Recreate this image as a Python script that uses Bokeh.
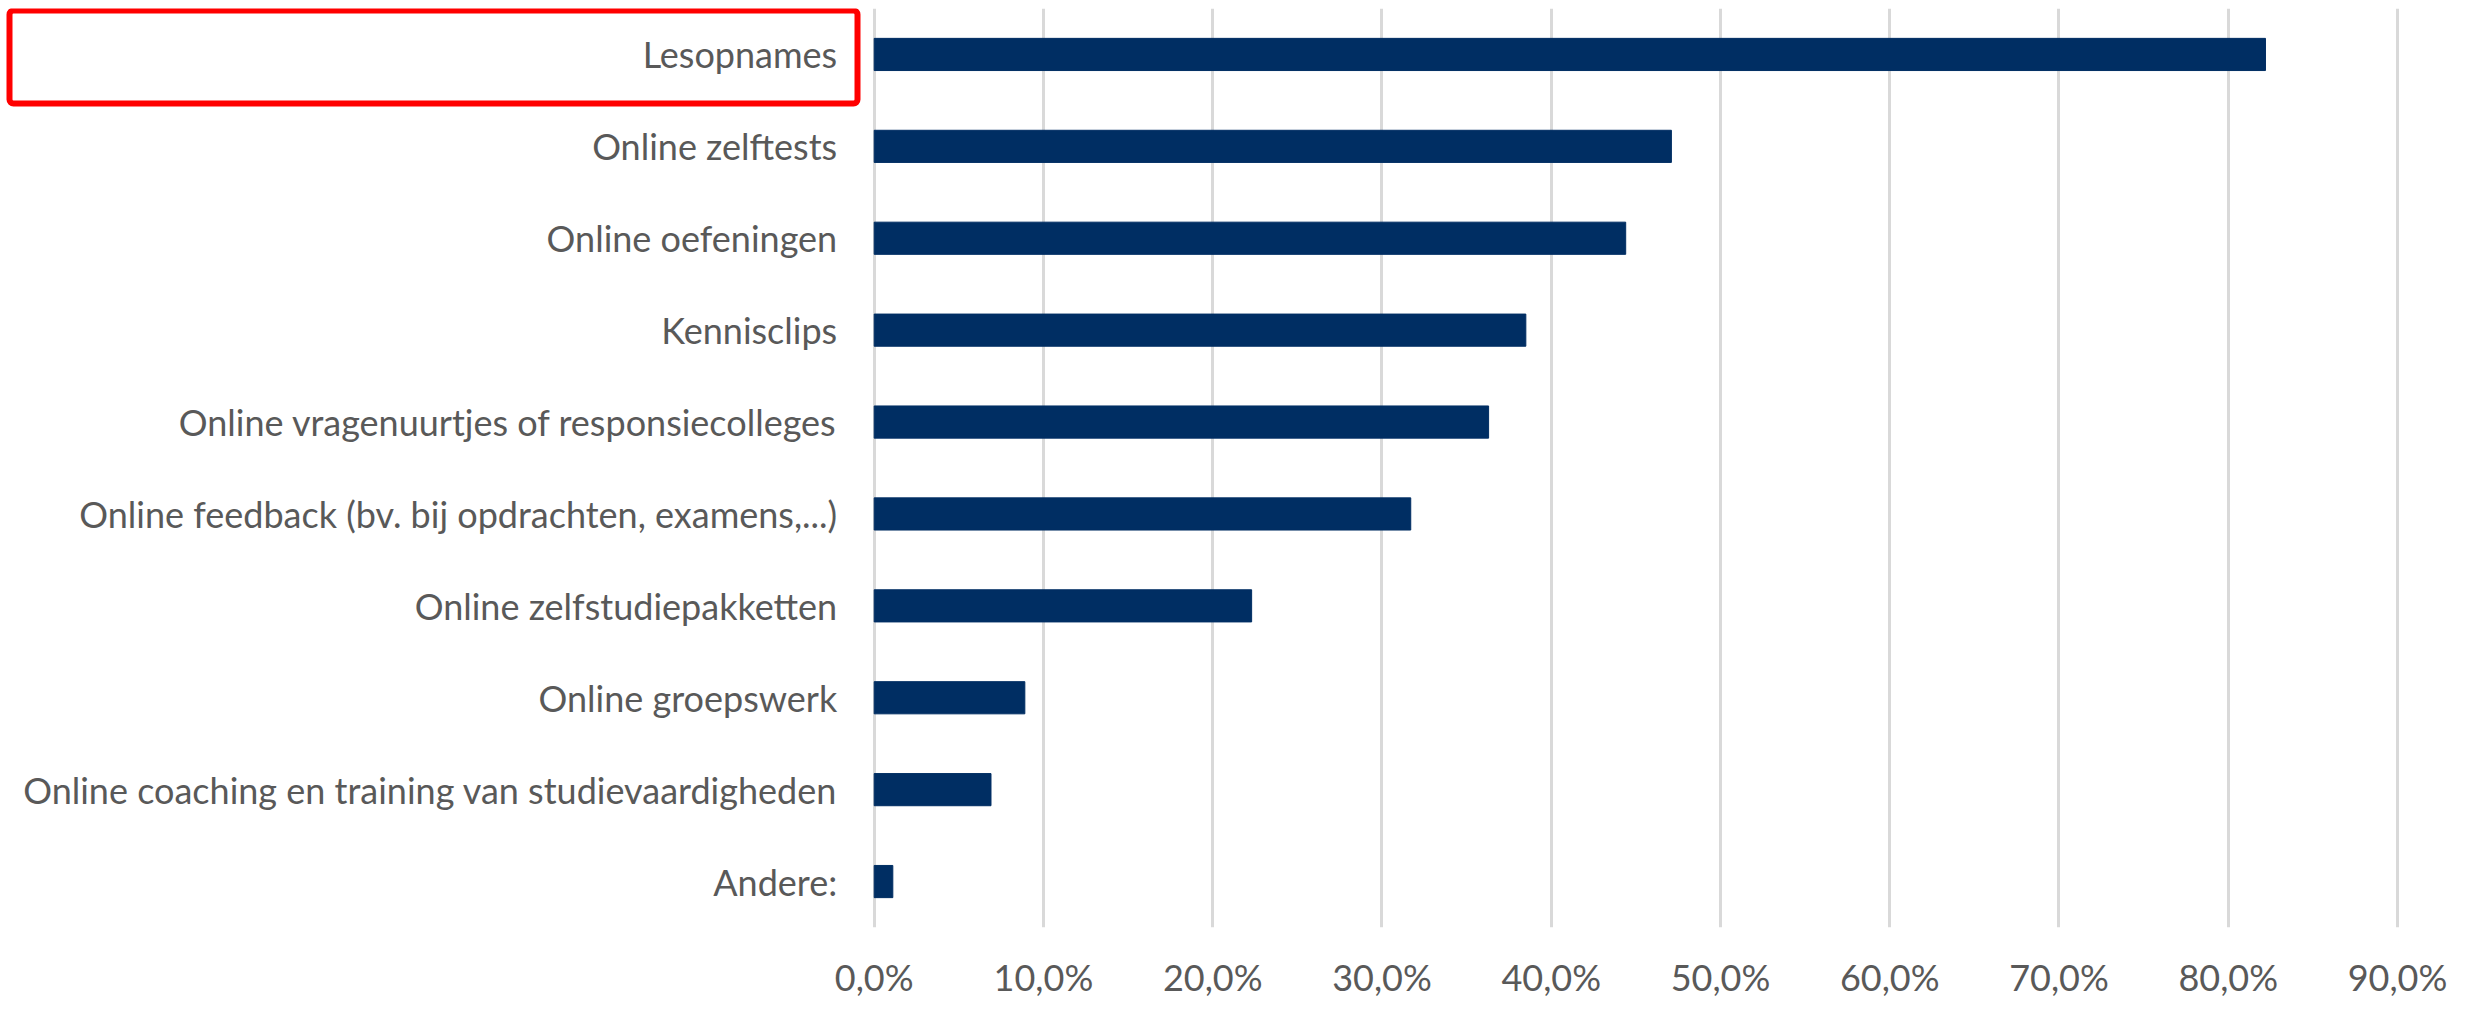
from bokeh.plotting import figure
from bokeh.models import FixedTicker, CustomJSTickFormatter, BoxAnnotation, Range1d
from bokeh.core.properties import value
from bokeh.embed import file_html
from bokeh.resources import INLINE

categories = [
    "Lesopnames",
    "Online zelftests",
    "Online oefeningen",
    "Kennisclips",
    "Online vragenuurtjes of responsiecolleges",
    "Online feedback (bv. bij opdrachten, examens,...)",
    "Online zelfstudiepakketten",
    "Online groepswerk",
    "Online coaching en training van studievaardigheden",
    "Andere:",
]
values = [0.822, 0.471, 0.444, 0.385, 0.363, 0.317, 0.223, 0.089, 0.069, 0.011]
tick_values = [0.0, 0.1, 0.2, 0.3, 0.4, 0.5, 0.6, 0.7, 0.8, 0.9]
zeros = [0.0] * len(categories)

BAR = "#002E63"
GRID = "#D9D9D9"
TEXT = "#595959"
FONT = "Lato"

# canvas layout: value 0 at x=873.7 px, 0.9 at x=2397 px on a 2480 px wide frame
W = 2480
H = 1020
X0_PX = 873.7
X90_PX = 2397.0
px_per_unit = (X90_PX - X0_PX) / 0.9
x_start = -X0_PX / px_per_unit
x_end = 0.9 + (W - X90_PX) / px_per_unit

p = figure(
    y_range=list(reversed(categories)),
    x_range=Range1d(x_start, x_end),
    width=W, height=H,
    output_backend="svg", toolbar_location=None,
    min_border_left=0, min_border_right=0, min_border_top=8, min_border_bottom=H - 927,
)
p.hbar(y=categories, right=values, left=0, height=0.35, color=BAR)

# category labels, right-aligned just left of the value axis origin
p.text(x=zeros, y=categories, text=categories, x_offset=-37,
       text_align="right", text_baseline="middle",
       text_font=value(FONT), text_font_size="36px", text_color=TEXT)

p.outline_line_color = None
p.background_fill_color = "white"
p.border_fill_color = "white"

p.yaxis.visible = False

p.xaxis.ticker = FixedTicker(ticks=tick_values)
p.xaxis.formatter = CustomJSTickFormatter(code="return (tick*100).toFixed(1).replace('.', ',') + '%';")
p.xaxis.axis_line_color = None
p.xaxis.major_tick_line_color = None
p.xaxis.minor_tick_line_color = None
p.xaxis.major_label_text_font = FONT
p.xaxis.major_label_text_font_size = "36px"
p.xaxis.major_label_text_color = TEXT
p.xaxis.major_label_standoff = 21

p.xgrid.grid_line_color = GRID
p.xgrid.grid_line_width = 3
p.ygrid.grid_line_color = None

box = BoxAnnotation(left=9, right=857, top=10, bottom=103,
                    left_units="canvas", right_units="canvas",
                    top_units="canvas", bottom_units="canvas",
                    fill_alpha=0, line_color="#FF0000", line_alpha=1.0,
                    line_width=6, border_radius=4,
                    level="overlay")
p.add_layout(box)

open("out.html", "w").write(file_html(p, INLINE))
